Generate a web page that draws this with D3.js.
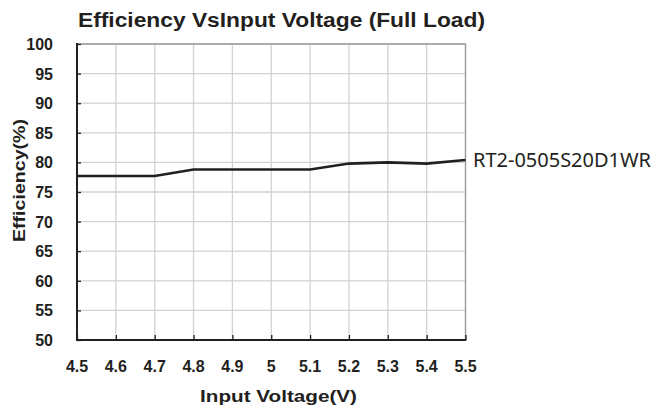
<!DOCTYPE html>
<html>
<head>
<meta charset="utf-8">
<script src="https://cdn.jsdelivr.net/npm/d3@7"></script>
<style>
body { margin: 0; background: #fff; }
text { font-family: "Liberation Sans", Arial, sans-serif; fill: #231f20; }
</style>
</head>
<body>
<svg id="chart" width="653" height="410"></svg>
<script>
// data
let voltage = [4.5, 4.6, 4.7, 4.8, 4.9, 5.0, 5.1, 5.2, 5.3, 5.4, 5.5];
let efficiency = [77.7, 77.7, 77.7, 78.8, 78.8, 78.8, 78.8, 79.8, 80.0, 79.8, 80.4];
let xTicks = [4.5, 4.6, 4.7, 4.8, 4.9, 5.0, 5.1, 5.2, 5.3, 5.4, 5.5];
let yTicks = [50, 55, 60, 65, 70, 75, 80, 85, 90, 95, 100];
let seriesName = "RT2-0505S20D1WR";

let svg = d3.select("#chart");
let plotL = 77, plotR = 465.5, plotT = 44, plotB = 340;

let x = d3.scaleLinear().domain([4.5, 5.5]).range([plotL, plotR]);
let y = d3.scaleLinear().domain([50, 100]).range([plotB, plotT]);

// grid
svg.append("g").selectAll("line").data(xTicks.slice(1)).join("line")
    .attr("x1", d => x(d)).attr("x2", d => x(d))
    .attr("y1", plotT).attr("y2", plotB)
    .attr("stroke", "#d2d2d2").attr("stroke-width", 1.3);
svg.append("g").selectAll("line").data(yTicks.slice(1)).join("line")
    .attr("x1", plotL).attr("x2", plotR)
    .attr("y1", d => y(d)).attr("y2", d => y(d))
    .attr("stroke", "#d2d2d2").attr("stroke-width", 1.3);

// top / right frame
svg.append("line").attr("x1", plotL).attr("x2", plotR).attr("y1", plotT).attr("y2", plotT)
    .attr("stroke", "#9a9a9a").attr("stroke-width", 1.3);
svg.append("line").attr("x1", plotR).attr("x2", plotR).attr("y1", plotT).attr("y2", plotB)
    .attr("stroke", "#9a9a9a").attr("stroke-width", 1.3);

// axes
let yAxis = d3.axisRight(y).tickValues(yTicks).tickSize(4).tickFormat("");
let gy = svg.append("g").attr("transform", `translate(${plotL},0)`).call(yAxis);
gy.select(".domain").remove();
gy.selectAll("line").attr("stroke", "#231f20").attr("stroke-width", 1.3);

let xAxis = d3.axisTop(x).tickValues(xTicks).tickSize(5).tickFormat("");
let gx = svg.append("g").attr("transform", `translate(0,${plotB})`).call(xAxis);
gx.select(".domain").remove();
gx.selectAll("line").attr("stroke", "#231f20").attr("stroke-width", 1.3);

svg.append("line").attr("x1", plotL).attr("x2", plotL).attr("y1", plotT - 1).attr("y2", plotB + 1)
    .attr("stroke", "#231f20").attr("stroke-width", 2);
svg.append("line").attr("x1", plotL - 1).attr("x2", plotR + 0.7).attr("y1", plotB).attr("y2", plotB)
    .attr("stroke", "#231f20").attr("stroke-width", 2);

// tick labels
svg.append("g").selectAll("text").data(yTicks).join("text")
    .attr("x", 53).attr("y", d => y(d) + 6)
    .attr("text-anchor", "end").attr("font-size", 16).attr("font-weight", "bold")
    .text(d => d);
svg.append("g").selectAll("text").data(xTicks).join("text")
    .attr("x", d => x(d)).attr("y", 372)
    .attr("text-anchor", "middle").attr("font-size", 16).attr("font-weight", "bold")
    .text(d => d3.format("")(d));

// line
let line = d3.line().x((d, i) => x(voltage[i])).y(d => y(d));
svg.append("path").datum(efficiency)
    .attr("d", line).attr("fill", "none")
    .attr("stroke", "#231f20").attr("stroke-width", 2.6);

svg.append("text").attr("x", 473).attr("y", 167)
    .style("font-family", "'Noto Sans', sans-serif")
    .attr("font-size", 19).text(seriesName)
    .attr("textLength", 178).attr("lengthAdjust", "spacingAndGlyphs");

// titles
svg.append("text").attr("x", 78).attr("y", 27)
    .attr("font-size", 20).attr("font-weight", "bold")
    .attr("textLength", 407).attr("lengthAdjust", "spacingAndGlyphs")
    .text("Efficiency VsInput Voltage (Full Load)");
svg.append("text").attr("x", 200).attr("y", 402)
    .attr("font-size", 17).attr("font-weight", "bold")
    .attr("textLength", 157).attr("lengthAdjust", "spacingAndGlyphs")
    .text("Input Voltage(V)");
svg.append("text").attr("transform", "translate(25,242) rotate(-90)")
    .attr("font-size", 17).attr("font-weight", "bold")
    .attr("textLength", 123).attr("lengthAdjust", "spacingAndGlyphs")
    .text("Efficiency(%)");
</script>
</body>
</html>
